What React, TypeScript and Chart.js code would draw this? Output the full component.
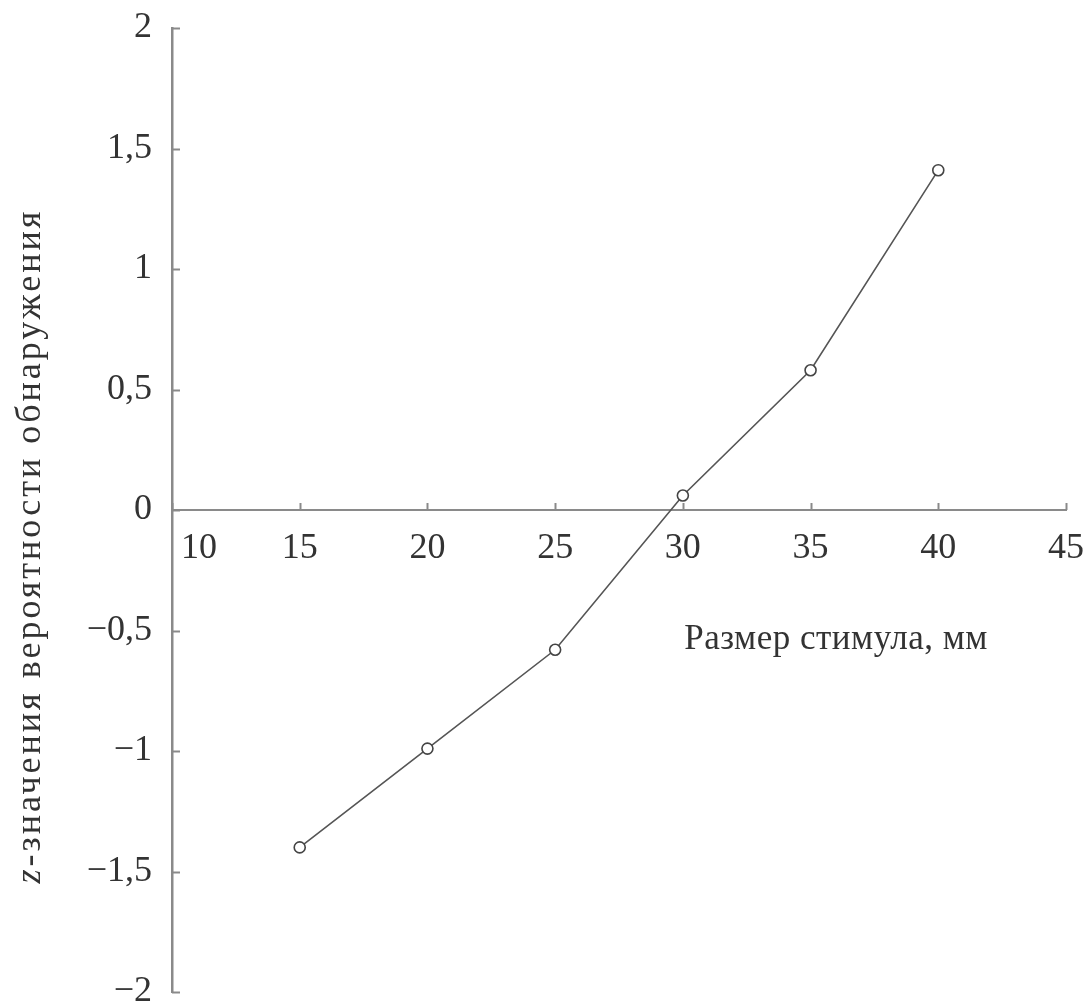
import React, { useEffect, useRef } from 'react';
import { Chart, registerables } from 'chart.js';

Chart.register(...registerables);

const stimulusSizes = [15, 20, 25, 30, 35, 40];
const zScores = [-1.40, -0.99, -0.58, 0.06, 0.58, 1.41];
const xTickValues = [10, 15, 20, 25, 30, 35, 40, 45];
const yTickValues = [-2, -1.5, -1, -0.5, 0, 0.5, 1, 1.5, 2];
const xTitle = 'Размер стимула, мм';
const yTitleItalic = 'z';
const yTitleRest = '-значения вероятности обнаружения';

const FONT = '"Liberation Serif", "Times New Roman", serif';
const AXIS_COLOR = '#8a8a8a';
const TEXT_COLOR = '#333333';

function fmt(v: number): string {
  const s = String(Math.abs(v)).replace('.', ',');
  return v < 0 ? '\u2212' + s : s;
}

const decorPlugin = {
  id: 'decor',
  afterDraw(chart: any) {
    const ctx = chart.ctx as any;
    const xs = chart.scales.x;
    const ys = chart.scales.y;
    const x0 = xs.left;
    const y0 = ys.getPixelForValue(0);
    ctx.save();
    ctx.strokeStyle = AXIS_COLOR;
    ctx.lineWidth = 2;
    // inside ticks on y axis
    yTickValues.forEach((v) => {
      const py = Math.round(ys.getPixelForValue(v)) + 0.5;
      ctx.beginPath();
      ctx.moveTo(x0, py);
      ctx.lineTo(x0 + 8, py);
      ctx.stroke();
    });
    // inside ticks on x axis
    xTickValues.forEach((v) => {
      const px = Math.round(xs.getPixelForValue(v)) + 0.5;
      ctx.beginPath();
      ctx.moveTo(px, y0);
      ctx.lineTo(px, y0 - 7);
      ctx.stroke();
    });
    // x title
    ctx.fillStyle = TEXT_COLOR;
    ctx.font = `35px ${FONT}`;
    ctx.textAlign = 'center';
    ctx.textBaseline = 'middle';
    if ('letterSpacing' in ctx) ctx.letterSpacing = '0.5px';
    ctx.fillText(xTitle, xs.getPixelForValue(36), ys.getPixelForValue(-0.54));
    // y title (rotated)
    const cy = ys.getPixelForValue(-0.15);
    ctx.translate(40, cy);
    ctx.rotate(-Math.PI / 2);
    if ('letterSpacing' in ctx) ctx.letterSpacing = '3px';
    ctx.textBaseline = 'alphabetic';
    ctx.textAlign = 'left';
    ctx.font = `italic 36px ${FONT}`;
    const w1 = ctx.measureText(yTitleItalic).width;
    ctx.font = `36px ${FONT}`;
    const w2 = ctx.measureText(yTitleRest).width;
    const start = -(w1 + w2) / 2;
    ctx.font = `italic 36px ${FONT}`;
    ctx.fillText(yTitleItalic, start, 0);
    ctx.font = `36px ${FONT}`;
    ctx.fillText(yTitleRest, start + w1, 0);
    ctx.restore();
  },
};

export default function App() {
  const canvasRef = useRef<HTMLCanvasElement | null>(null);

  useEffect(() => {
    document.body.style.margin = '0';
    const canvas = canvasRef.current!;
    const chart = new Chart(canvas, {
      type: 'line',
      data: {
        datasets: [
          {
            data: stimulusSizes.map((x, i) => ({ x, y: zScores[i] })),
            borderColor: '#555555',
            borderWidth: 1.6,
            pointRadius: 5.5,
            pointBorderWidth: 1.6,
            pointBackgroundColor: '#ffffff',
            pointBorderColor: '#444444',
            tension: 0,
            fill: false,
          },
        ],
      },
      options: {
        responsive: false,
        animation: false,
        layout: { padding: { top: 28, right: 23, bottom: 13, left: 0 } },
        plugins: { legend: { display: false }, tooltip: { enabled: false } },
        scales: {
          x: {
            type: 'linear',
            position: { y: 0 } as any,
            min: 10,
            max: 45,
            afterBuildTicks: (s: any) => {
              s.ticks = xTickValues.map((v) => ({ value: v }));
            },
            afterFit: (s: any) => {
              s.paddingLeft = 0;
              s.paddingRight = 0;
            },
            grid: { display: false, drawTicks: false },
            border: { display: true, color: AXIS_COLOR, width: 2 },
            ticks: {
              autoSkip: false,
              maxRotation: 0,
              padding: 17,
              color: TEXT_COLOR,
              font: { family: FONT, size: 36 },
              callback: (v: any) => (v === 10 ? '\u2003\u2002' + '10' : String(v)),
            },
          },
          y: {
            type: 'linear',
            position: 'left',
            min: -2,
            max: 2,
            afterBuildTicks: (s: any) => {
              s.ticks = yTickValues.map((v) => ({ value: v }));
            },
            afterFit: (s: any) => {
              s.width = 172;
              s.paddingTop = 0;
              s.paddingBottom = 0;
            },
            grid: { display: false, drawTicks: false },
            border: { display: true, color: AXIS_COLOR, width: 2.5 },
            ticks: {
              autoSkip: false,
              padding: 20,
              color: TEXT_COLOR,
              font: { family: FONT, size: 36 },
              callback: (v: any) => fmt(Number(v)),
            },
          },
        },
      },
      plugins: [decorPlugin],
    });
    return () => chart.destroy();
  }, []);

  return (
    <div style={{ width: 1089, height: 1005, overflow: 'hidden', background: '#fff' }}>
      <canvas ref={canvasRef} width={1089} height={1005} />
    </div>
  );
}
